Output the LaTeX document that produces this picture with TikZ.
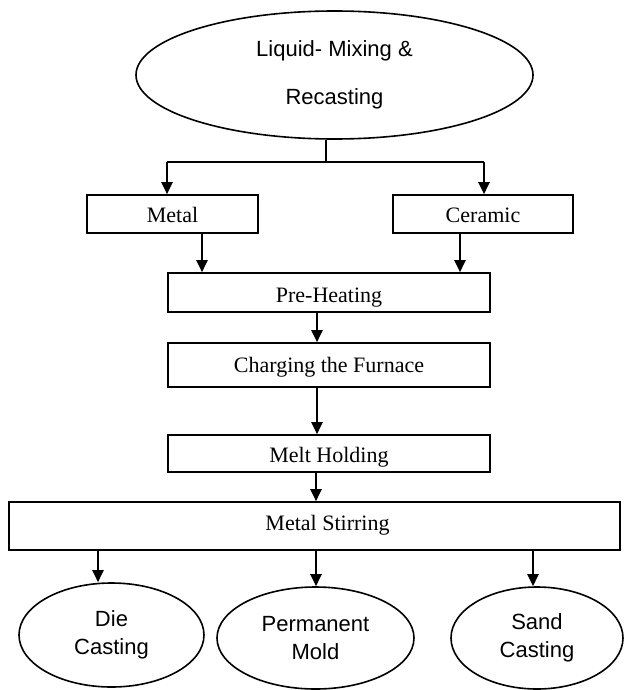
\documentclass[tikz,border=0pt]{standalone}
\usepackage{fontspec}
\setmainfont{Liberation Serif}
\newfontfamily\arialfont{Liberation Sans}
\usetikzlibrary{shapes.geometric,arrows.meta}
\tikzset{
  stepbox/.style={draw=black, line width=1.6pt, rectangle, inner sep=0pt,
    font=\fontsize{22}{26}\selectfont, text height=18.4pt, text depth=1pt},
  oval/.style={draw=black, line width=1.6pt, ellipse, inner sep=0pt, align=center,
    font=\arialfont\fontsize{22}{28.5}\selectfont},
  arr/.style={line width=2.4pt, -{Triangle[width=11pt,length=12pt]}},
  conn/.style={line width=1.8pt},
  thinconn/.style={line width=1.1pt}
}
\begin{document}
\begin{tikzpicture}[x=1pt,y=-1pt]
\useasboundingbox (0,0) rectangle (625,690);

\node[oval, minimum width=397pt, minimum height=128pt,
      font=\arialfont\fontsize{22}{47.4}\selectfont] (top) at (334.5,75) {Liquid- Mixing \&\\Recasting};

\node[stepbox, minimum width=171pt, minimum height=38pt] (metal) at (172.5,214) {Metal};
\node[stepbox, minimum width=180pt, minimum height=38pt] (ceramic) at (483,214) {Ceramic};
\node[stepbox, minimum width=322pt, minimum height=39pt, text height=21pt] (pre) at (329,292.5) {Pre-Heating};
\node[stepbox, minimum width=322pt, minimum height=44pt, text height=16.4pt] (charge) at (329,365) {Charging the Furnace};
\node[stepbox, minimum width=322pt, minimum height=37pt] (melt) at (329,453.5) {Melt Holding};
\node[stepbox, minimum width=611pt, minimum height=48pt,
      label={[xshift=13pt, font=\fontsize{22}{26}\selectfont, text height=14pt, text depth=6pt, inner sep=0pt]center:Metal Stirring}] (stir) at (314.5,526) {};

\node[oval, minimum width=185pt, minimum height=104pt] (die) at (111.5,635) {Die\\Casting};
\node[oval, minimum width=197pt, minimum height=102pt] (perm) at (315.5,638) {Permanent\\Mold};
\node[oval, minimum width=172pt, minimum height=102pt] (sand) at (537,638) {Sand\\Casting};

% x positions of the connectors
\coordinate (split) at (326,162);
\coordinate (xm) at (167,0);
\coordinate (xc) at (484,0);
\coordinate (xa) at (202,0);
\coordinate (xb) at (460,0);
\coordinate (xs) at (317,0);
\coordinate (xt) at (316,0);
\coordinate (xd) at (98,0);
\coordinate (xe) at (533,0);

\draw[thinconn] (top.south -| split) -- (split);
\draw[conn] (split -| xm) -- (split -| xc);
\draw[arr] (split -| xm) -- (xm |- metal.north);
\draw[arr] (split -| xc) -- (xc |- ceramic.north);

\draw[arr] (xa |- metal.south) -- (xa |- pre.north);
\draw[arr] (xb |- ceramic.south) -- (xb |- pre.north);
\draw[arr] (xs |- pre.south) -- (xs |- charge.north);
\draw[arr] (xs |- charge.south) -- (xs |- melt.north);
\draw[arr] (xt |- melt.south) -- (xt |- stir.north);

\draw[arr] (xd |- stir.south) -- (xd |- die.north);
\draw[arr] (xt |- stir.south) -- (xt |- perm.north);
\draw[arr] (xe |- stir.south) -- (xe |- sand.north);
\end{tikzpicture}
\end{document}
